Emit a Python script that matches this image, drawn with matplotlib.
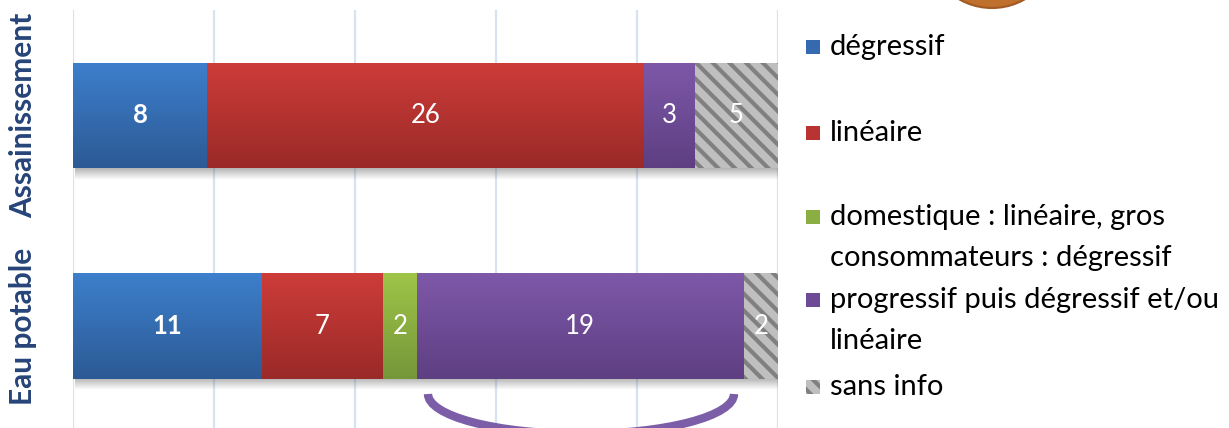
import numpy as np
import matplotlib
matplotlib.use("Agg")
import matplotlib.pyplot as plt
from matplotlib.patches import Rectangle, Arc, Ellipse
from matplotlib.colors import to_rgb

plt.rcParams['font.family'] = ['Lato', 'DejaVu Sans']
plt.rcParams['hatch.linewidth'] = 3.0

# ---- data -------------------------------------------------------------
categories = ["Eau potable", "Assainissement"]
series_labels = [
    "dégressif",
    "linéaire",
    "domestique : linéaire, gros\nconsommateurs : dégressif",
    "progressif puis dégressif et/ou\nlinéaire",
    "sans info",
]
degressif = [11, 8]
lineaire = [7, 26]
domestique = [2, 0]
progressif = [19, 3]
sans_info = [2, 5]

# ---- styles -----------------------------------------------------------
grad_top = ['#3d7fcc', '#cd3c39', '#9fc548', '#7e58a9', None]
grad_bot = ['#2c5a95', '#9a2a28', '#76963a', '#5e3f82', None]
flat = ['#3569b0', '#b83331', '#8aae42', '#6d4b96', '#bfbfbf']
bold_values = [True, False, False, False, False]
HATCH = '\\\\'

W, H = 1229, 428
fig = plt.figure(figsize=(W / 100, H / 100), dpi=100)
ax = fig.add_axes([73 / W, 1 - 431.5 / H, 705 / W, 421.5 / H])

series = [degressif, lineaire, domestique, progressif, sans_info]
vals = np.array(series, dtype=float)
totals = vals.sum(axis=0)
pct = vals / totals * 100
y = np.arange(len(categories))
bar_h = 0.5

# soft shadow under each bar
for yi, tot in zip(y, pct.sum(axis=0)):
    sh = np.zeros((20, 1, 4))
    sh[..., :3] = 0.35
    sh[:, 0, 3] = np.linspace(0.45, 0.0, 20)
    ax.imshow(sh, extent=(0.3, tot + 0.6, yi - bar_h / 2 - 0.055, yi - bar_h / 2),
              aspect='auto', origin='upper', zorder=1.5, interpolation='bilinear')

left = np.zeros(len(categories))
for k, row in enumerate(pct):
    if grad_top[k] is None:
        bars = ax.barh(y, row, left=left, height=bar_h, color='#bfbfbf',
                       hatch=HATCH, edgecolor='#808080', linewidth=0, zorder=2)
    else:
        bars = ax.barh(y, row, left=left, height=bar_h, color=flat[k],
                       linewidth=0, zorder=2)
        c0, c1 = np.array(to_rgb(grad_top[k])), np.array(to_rgb(grad_bot[k]))
        t = np.linspace(0, 1, 64)[:, None, None]
        img = c0 * (1 - t) + c1 * t
        for b in bars:
            if b.get_width() <= 0:
                continue
            im = ax.imshow(img, extent=(b.get_x(), b.get_x() + b.get_width(),
                                        b.get_y(), b.get_y() + b.get_height()),
                           aspect='auto', origin='upper', zorder=2.1,
                           interpolation='bilinear')
            im.set_clip_path(b)
    for b, v in zip(bars, vals[k]):
        if v <= 0:
            continue
        ax.text(b.get_x() + b.get_width() / 2, b.get_y() + b.get_height() / 2,
                f"{int(v)}", ha='center', va='center', color='white',
                fontsize=18.5, fontweight='bold' if bold_values[k] else 'normal',
                zorder=4)
    left = left + row

ax.set_xlim(0, 100)
ax.set_ylim(-0.5, 1.5)
ax.set_xticks(np.arange(0, 101, 20))
ax.set_xticklabels([])
ax.set_yticks([])
ax.tick_params(length=0)
ax.grid(axis='x', color='#d6e3f3', linewidth=1.6, zorder=0)
ax.set_axisbelow(True)
for s in ax.spines.values():
    s.set_visible(False)

# category labels (rotated)
for yi, cat in zip(y, categories):
    fy = ax.transData.transform((0, yi))[1] / H
    fig.text(23 / W, fy, cat, rotation=90, ha='center', va='center',
             fontsize=21.5, fontweight='bold', color='#264478')

# legend
leg_y = [47, 133, 217, 300, 387]
for k, (lab, ly) in enumerate(zip(series_labels, leg_y)):
    sq = 14
    if grad_top[k] is None:
        fig.patches.append(Rectangle((806 / W, 1 - (ly + sq / 2) / H), sq / W, sq / H,
                                     transform=fig.transFigure, facecolor='#bfbfbf',
                                     hatch=HATCH, edgecolor='#808080', linewidth=0))
    else:
        fig.patches.append(Rectangle((806 / W, 1 - (ly + sq / 2) / H), sq / W, sq / H,
                                     transform=fig.transFigure, facecolor=flat[k],
                                     linewidth=0))
    for i, line in enumerate(lab.split("\n")):
        fig.text(830 / W, 1 - (ly + i * 41) / H, line, ha='left', va='center',
                 fontsize=21, color='black')

# decorative brace under the purple segment and round badge at the top
fig.patches.append(Arc((581 / W, 1 - 394 / H), 306 / W, 80 / H, theta1=180, theta2=360,
                       transform=fig.transFigure, color='#7b5ea7', linewidth=6,
                       capstyle='butt'))
fig.patches.append(Ellipse((992 / W, 1 + 58 / H), 132 / W, 132 / H,
                           transform=fig.transFigure, facecolor='#c0702d',
                           edgecolor='#a05a22', linewidth=1.5))

fig.savefig("out.png", dpi=100)
